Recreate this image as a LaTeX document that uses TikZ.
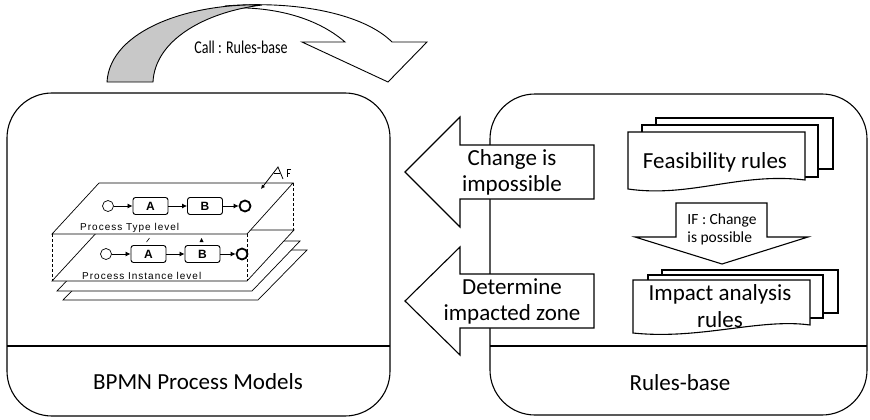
\documentclass[tikz,border=0pt]{standalone}
\usepackage{fontspec}
\setmainfont{Carlito}
\newfontfamily\planefont{Liberation Sans}
\newfontfamily\levelfont{Liberation Sans}[LetterSpace=10]
\usetikzlibrary{arrows.meta,positioning}
\definecolor{backgrey}{RGB}{200,200,200}
\tikzset{
    panel/.style={draw, line width=1.1pt, rounded corners=45pt},
    blockarr/.style={draw, line width=1.1pt, fill=white, line join=miter},
    biglbl/.style={align=center, font=\fontsize{23}{26}\selectfont},
    doc/.style={draw, line width=1.1pt, fill=white},
    plane/.style={draw, line width=0.7pt, fill=white},
    lvl/.style={anchor=west, inner sep=0pt, font=\levelfont\fontsize{10}{10}\selectfont},
    task/.style={draw, rounded corners=2.5pt, line width=0.9pt,
                 minimum width=35pt, minimum height=17pt, inner sep=0pt,
                 font=\planefont\bfseries\fontsize{12}{12}\selectfont},
    startev/.style={draw, circle, line width=0.7pt, minimum size=11pt, inner sep=0pt},
    endev/.style={draw, circle, line width=1.8pt, minimum size=11pt, inner sep=0pt},
}

\begin{document}
\begin{tikzpicture}[
    x=1pt, y=-1pt,
    flow/.style={-{Latex[length=5pt,width=5pt]}, line width=0.8pt},
]
    \useasboundingbox (0,0) rectangle (870,420);

    % curved call arrow
    \draw[line width=0.9pt, fill=white, line join=miter]
        (225,6) .. controls (300,0) and (365,15) .. (392,42) -- (427,42) -- (388,82)
        -- (302,42) -- (345,42) .. controls (315,16) and (270,6) .. (225,8) -- cycle;
    \draw[line width=0.9pt, fill=backgrey]
        (107,82) .. controls (110,30) and (190,3) .. (262,5)
        .. controls (205,12) and (155,40) .. (153,82) -- cycle;
    \node[font=\fontsize{18}{18}\selectfont] (call) at (241,47) {\scalebox{0.78}[1]{Call : Rules-base}};

    % two panels
    \draw[panel] (7,93) rectangle (390,416);
    \draw[line width=1.1pt] (7,346) -- (390,346);
    \node[biglbl] (bpmn) at (198,382) {BPMN Process Models};

    \draw[panel] (490,94) rectangle (867,415);
    \draw[line width=1.1pt] (490,346) -- (867,346);
    \node[biglbl] (rules) at (680,383) {Rules-base};

    % answers back to the models
    \draw[blockarr] (594,145) -- (460,145) -- (460,117) -- (405,172) -- (460,227)
        -- (460,199) -- (594,199) -- cycle;
    \node[biglbl] (impossible) at (512,172) {Change is\\impossible};
    \draw[blockarr] (594,274) -- (460,274) -- (460,247) -- (405,301) -- (460,355)
        -- (460,328) -- (594,328) -- cycle;
    \node[biglbl] (zone) at (512,301) {Determine\\impacted zone};

    % feasibility rules
    \draw[doc] (656,118) rectangle (833,169);
    \draw[doc] (642,125) rectangle (818,177);
    \draw[doc] (628,132) -- (805,132) -- (805,180)
        .. controls (740,172) and (690,198) .. (628,189) -- cycle;
    \node[biglbl] (feas) at (715,162) {Feasibility rules};

    \draw[blockarr] (676,203) -- (767,203) -- (767,237) -- (808,237) -- (722,264)
        -- (635,237) -- (676,237) -- cycle;
    \node[align=left, font=\fontsize{15.5}{18}\selectfont] (ifok) at (722,229) {IF : Change\\is possible};

    % impact analysis rules
    \draw[doc] (662,270) rectangle (838,313);
    \draw[doc] (648,275) rectangle (823,318);
    \draw[doc] (633,280) -- (810,280) -- (810,325)
        .. controls (760,318) and (700,340) .. (633,333) -- cycle;
    \node[align=center, font=\fontsize{23}{27}\selectfont] (impact) at (720,306) {Impact analysis\\rules};

    % stacked process levels
    \draw[plane] (63,300) -- (258,300) -- (307,250) -- (112,250) -- cycle;
    \draw[plane] (57,291) -- (252,291) -- (300,241) -- (105,241) -- cycle;
    \draw[plane] (52,281) -- (247,281) -- (294,230) -- (99,230) -- cycle;
    \draw[plane] (52,234) -- (247,234) -- (293,183) -- (99,183) -- cycle;
    \draw[line width=0.7pt, dash pattern=on 3pt off 2pt]
        (52,234) -- (52,281)  (247,234) -- (247,281)  (293,183) -- (293,230);

    % type level
    \node[startev] (s1) at (108,206) {};
    \node[task] (a1) at (150.5,206) {A};
    \node[task] (b1) at (205,206) {B};
    \node[endev] (e1) at (245,206) {};
    \draw[flow] (s1) -- (a1);
    \draw[flow] (a1) -- (b1);
    \draw[flow] (b1) -- (e1);
    \node[lvl] (typelvl) at (80,228) {Process Type level};

    % instance level
    \node[startev] (s2) at (106,254) {};
    \node[task] (a2) at (148.5,254) {A};
    \node[task] (b2) at (202.5,254) {B};
    \node[endev] (e2) at (242,254) {};
    \draw[flow] (s2) -- (a2);
    \draw[flow] (a2) -- (b2);
    \draw[flow] (b2) -- (e2);
    \node[lvl] (instlvl) at (82,276) {Process Instance level};
    \draw[line width=0.6pt] (146.5,242) -- (149.5,238);
    \fill (199.5,242) -- (203.5,242) -- (201.5,238) -- cycle;

    % change marker
    \draw[line width=0.8pt, -{Latex[length=4pt,width=4pt]}]
        (283,179) -- (278,167) -- (261,189);
    \draw[line width=0.8pt] (274,173) -- (280,173)
        (291,169) -- (287,169) -- (287,177)  (287,173) -- (290,173);
\end{tikzpicture}
\end{document}
